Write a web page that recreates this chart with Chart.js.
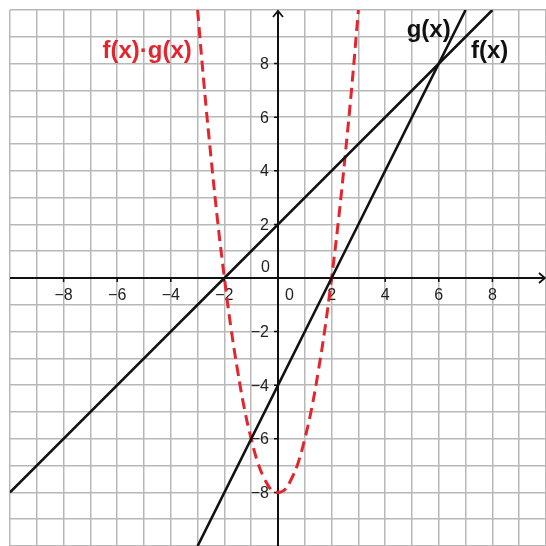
<!DOCTYPE html>
<html>
<head>
<meta charset="utf-8">
<script src="https://cdn.jsdelivr.net/npm/chart.js@4.4.1/dist/chart.umd.min.js"></script>
<style>
  html, body { margin: 0; padding: 0; background: #fff; }
  #wrap { width: 546px; height: 546px; }
</style>
</head>
<body>
<div id="wrap"><canvas id="plot"></canvas></div>
<script>
const x_range = [-10, 10];
const y_range = [-10, 10];
const x_tick_labels = [-8, -6, -4, -2, 0, 2, 4, 6, 8];
const y_tick_labels = [-8, -6, -4, -2, 0, 2, 4, 6, 8];

// f(x): end points
const f_x = [-3, 7];
const f_y = [-10, 10];

// g(x)
const g_x = [-10, 8];
const g_y = [-8, 10];

// f(x)·g(x), read at quarter steps
const fg_x = [-3, -2.75, -2.5, -2.25, -2, -1.75, -1.5, -1.25, -1, -0.75, -0.5, -0.25, 0,
              0.25, 0.5, 0.75, 1, 1.25, 1.5, 1.75, 2, 2.25, 2.5, 2.75, 3];
const fg_y = [10, 7.1, 4.5, 2.1, 0, -1.9, -3.5, -4.9, -6, -6.9, -7.5, -7.9, -8,
              -7.9, -7.5, -6.9, -6, -4.9, -3.5, -1.9, 0, 2.1, 4.5, 7.1, 10];

const curve_labels = [
  { text: "f(x)·g(x)", x: -6.55, y: 8.2, colour: "#e3262d" },
  { text: "g(x)", x: 4.8, y: 9.0, colour: "#111" },
  { text: "f(x)", x: 7.2, y: 8.2, colour: "#111" }
];

const red = "#e3262d";
const grid_colour = "#b8b8b8";

function toPoints(xs, ys) {
  return xs.map((x, i) => ({ x: x, y: ys[i] }));
}

function minusSign(v) {
  return v < 0 ? "\u2212" + Math.abs(v) : String(v);
}

const axesPlugin = {
  id: "axes",
  beforeDatasetsDraw(chart) {
    const ctx = chart.ctx;
    const xs = chart.scales.x;
    const ys = chart.scales.y;
    const area = chart.chartArea;
    const x0 = xs.getPixelForValue(0);
    const y0 = ys.getPixelForValue(0);

    ctx.save();
    ctx.strokeStyle = "#111";
    ctx.lineWidth = 2;

    // axis lines
    ctx.beginPath();
    ctx.moveTo(area.left, y0);
    ctx.lineTo(area.right - 1, y0);
    ctx.moveTo(x0, area.bottom);
    ctx.lineTo(x0, area.top + 1);
    ctx.stroke();

    // arrows
    ctx.lineWidth = 1.8;
    ctx.beginPath();
    ctx.moveTo(area.right - 7, y0 - 5);
    ctx.lineTo(area.right - 1, y0);
    ctx.lineTo(area.right - 7, y0 + 5);
    ctx.moveTo(x0 - 5, area.top + 7);
    ctx.lineTo(x0, area.top + 1);
    ctx.lineTo(x0 + 5, area.top + 7);
    ctx.stroke();

    // tick marks
    ctx.lineWidth = 1.5;
    ctx.beginPath();
    x_tick_labels.forEach(v => {
      if (v === 0) return;
      const px = xs.getPixelForValue(v);
      ctx.moveTo(px, y0);
      ctx.lineTo(px, y0 + 4);
    });
    y_tick_labels.forEach(v => {
      if (v === 0) return;
      const py = ys.getPixelForValue(v);
      ctx.moveTo(x0, py);
      ctx.lineTo(x0 - 4, py);
    });
    ctx.stroke();

    // tick labels
    ctx.fillStyle = "#222";
    ctx.font = "16px 'Liberation Sans', Arial, sans-serif";
    ctx.textBaseline = "top";
    x_tick_labels.forEach(v => {
      const px = xs.getPixelForValue(v);
      if (v === 0) {
        ctx.textAlign = "left";
        ctx.fillText("0", x0 + 7, y0 + 10);
      } else {
        ctx.textAlign = "center";
        ctx.fillText(minusSign(v), px, y0 + 10);
      }
    });
    ctx.textAlign = "right";
    y_tick_labels.forEach(v => {
      if (v === 0) {
        ctx.textBaseline = "bottom";
        ctx.fillText("0", x0 - 8, y0 - 2);
      } else {
        ctx.textBaseline = "middle";
        ctx.fillText(minusSign(v), x0 - 9, ys.getPixelForValue(v) + 1);
      }
    });
    ctx.restore();
  },
  afterDatasetsDraw(chart) {
    const ctx = chart.ctx;
    const xs = chart.scales.x;
    const ys = chart.scales.y;
    ctx.save();
    ctx.font = "bold 24px 'Liberation Sans', Arial, sans-serif";
    ctx.textAlign = "left";
    ctx.textBaseline = "alphabetic";
    curve_labels.forEach(l => {
      ctx.fillStyle = l.colour;
      ctx.fillText(l.text, xs.getPixelForValue(l.x), ys.getPixelForValue(l.y));
    });
    ctx.restore();
  }
};

const ctx = document.getElementById("plot").getContext("2d");

const plot = new Chart(ctx, {
  type: "scatter",
  data: {
    datasets: [
      {
        label: "g(x)",
        data: toPoints(g_x, g_y),
        showLine: true,
        borderColor: "#111",
        borderWidth: 2.6,
        pointRadius: 0
      },
      {
        label: "f(x)",
        data: toPoints(f_x, f_y),
        showLine: true,
        borderColor: "#111",
        borderWidth: 2.6,
        pointRadius: 0
      },
      {
        label: "f(x)·g(x)",
        data: toPoints(fg_x, fg_y),
        showLine: true,
        borderColor: red,
        borderWidth: 3,
        borderDash: [11, 6],
        tension: 0.4,
        pointRadius: 0
      }
    ]
  },
  options: {
    responsive: true,
    maintainAspectRatio: false,
    animation: false,
    layout: { padding: { left: 10, top: 10, right: 0, bottom: 0 } },
    plugins: {
      legend: { display: false },
      tooltip: { enabled: false }
    },
    scales: {
      x: {
        type: "linear",
        min: x_range[0],
        max: x_range[1],
        ticks: { display: false, stepSize: 1 },
        grid: { color: grid_colour, lineWidth: 1.5, drawTicks: false },
        border: { display: false }
      },
      y: {
        type: "linear",
        min: y_range[0],
        max: y_range[1],
        ticks: { display: false, stepSize: 1 },
        grid: { color: grid_colour, lineWidth: 1.5, drawTicks: false },
        border: { display: false }
      }
    }
  },
  plugins: [axesPlugin]
});
</script>
</body>
</html>
